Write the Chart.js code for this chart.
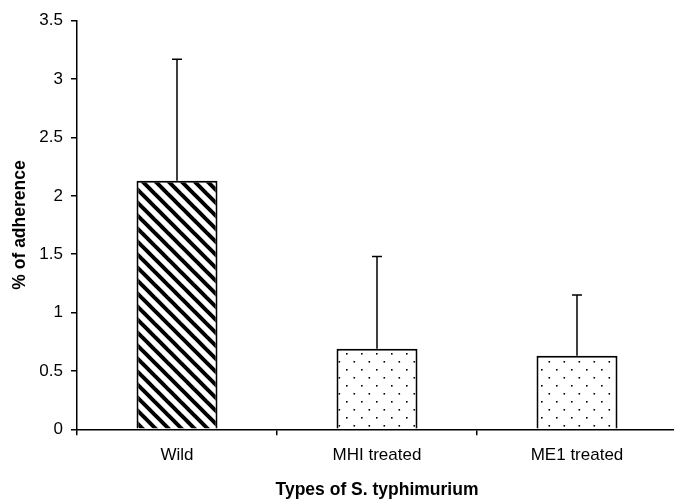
<!DOCTYPE html>
<html>
<head>
<meta charset="utf-8">
<script src="https://cdn.jsdelivr.net/npm/chart.js@4/dist/chart.umd.min.js"></script>
<style>
  html, body { margin: 0; padding: 0; background: #fff; overflow: hidden; }
  #wrap { width: 680px; height: 500px; }
</style>
</head>
<body>
<div id="wrap"><canvas id="c" width="680" height="500"></canvas></div>
<script>
'use strict';
// data
var categories = ['Wild', 'MHI treated', 'ME1 treated'];
var adherence = [2.13, 0.69, 0.63];
var errors = [1.04, 0.79, 0.52];
var yTicks = [0, 0.5, 1, 1.5, 2, 2.5, 3, 3.5];

var FONT = '"Liberation Sans", Arial, sans-serif';

// diagonal stripes, top-left to bottom-right
function stripes() {
    var s = 13;
    var c = document.createElement('canvas');
    c.width = s; c.height = s;
    var g = c.getContext('2d');
    g.fillStyle = '#fff';
    g.fillRect(0, 0, s, s);
    g.strokeStyle = '#000';
    g.lineWidth = 4;
    [-s, 0, s].forEach(function (o) {
        g.beginPath();
        g.moveTo(-2, -2 + o);
        g.lineTo(s + 2, s + 2 + o);
        g.stroke();
    });
    return g.createPattern(c, 'repeat');
}

// sparse staggered dots
function dots() {
    var c = document.createElement('canvas');
    c.width = 15; c.height = 16;
    var g = c.getContext('2d');
    g.fillStyle = '#fff';
    g.fillRect(0, 0, 15, 16);
    g.fillStyle = '#000';
    g.fillRect(1, 1, 1.6, 1.6);
    g.fillRect(8.5, 9, 1.6, 1.6);
    return g.createPattern(c, 'repeat');
}

var errorBars = {
    id: 'errorBars',
    afterDatasetsDraw: function (chart) {
        var ctx = chart.ctx;
        var y = chart.scales.y;
        var meta = chart.getDatasetMeta(0);
        ctx.save();
        ctx.strokeStyle = '#000';
        ctx.lineWidth = 1.5;
        meta.data.forEach(function (bar, i) {
            var top = y.getPixelForValue(adherence[i] + errors[i]);
            ctx.beginPath();
            ctx.moveTo(bar.x, bar.y);
            ctx.lineTo(bar.x, top);
            ctx.moveTo(bar.x - 5, top);
            ctx.lineTo(bar.x + 5, top);
            ctx.stroke();
        });
        ctx.restore();
    }
};

var fills = [stripes(), dots(), dots()];

new Chart(document.getElementById('c'), {
    type: 'bar',
    data: {
        labels: categories,
        datasets: [{
            data: adherence,
            backgroundColor: fills,
            borderColor: '#000',
            borderWidth: 2,
            barPercentage: 0.405,
            categoryPercentage: 1
        }]
    },
    options: {
        responsive: false,
        animation: false,
        layout: { padding: { top: 20.7, right: 3, left: 0, bottom: 0 } },
        plugins: { legend: { display: false }, tooltip: { enabled: false } },
        scales: {
            x: {
                grid: { drawOnChartArea: false, color: '#000', lineWidth: 1.5, tickLength: 6 },
                border: { color: '#000', width: 1.5 },
                ticks: { color: '#000', padding: 10, font: { family: FONT, size: 17 } },
                title: {
                    display: true,
                    text: 'Types of S. typhimurium',
                    color: '#000',
                    padding: { top: 0, bottom: 1 },
                    font: { family: FONT, size: 17.5, weight: 'bold', lineHeight: 1 }
                },
                afterFit: function (s) { s.height = 70.7; }
            },
            y: {
                min: 0,
                max: 3.5,
                afterBuildTicks: function (s) {
                    s.ticks = yTicks.map(function (v) { return { value: v }; });
                },
                grid: { drawOnChartArea: false, color: '#000', lineWidth: 1.5, tickLength: 6 },
                border: { color: '#000', width: 1.5 },
                ticks: {
                    color: '#000',
                    padding: 8,
                    font: { family: FONT, size: 17 },
                    callback: function (v) { return String(v); }
                },
                title: {
                    display: true,
                    text: '% of adherence',
                    color: '#000',
                    padding: { top: 10, bottom: 0 },
                    font: { family: FONT, size: 17.5, weight: 'bold', lineHeight: 1.2 }
                },
                afterFit: function (s) { s.width = 77; }
            }
        }
    },
    plugins: [errorBars]
});
</script>
</body>
</html>
